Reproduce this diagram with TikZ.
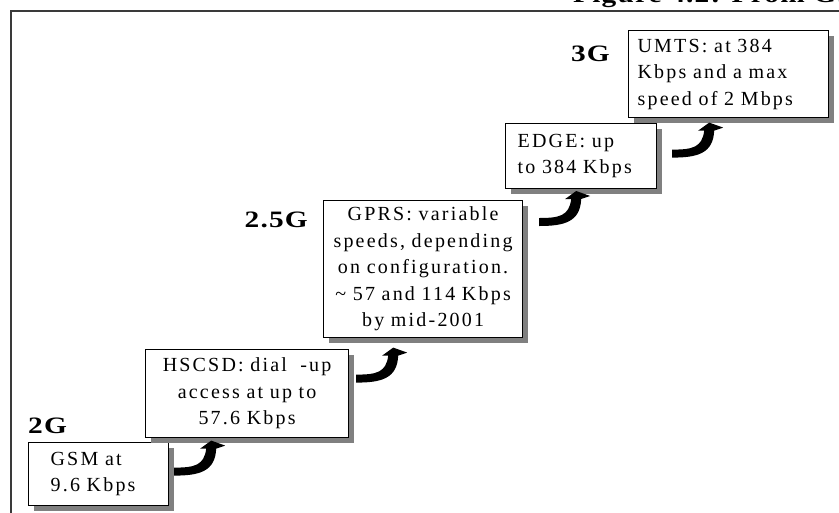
\documentclass[tikz,border=0pt]{standalone}
\usepackage{fontspec}
\setmainfont{Liberation Serif}
\newfontfamily\bodyfont[LetterSpace=11]{Liberation Serif}
\newfontfamily\tagfont[LetterSpace=4]{Liberation Serif}
\usetikzlibrary{shadows}
\definecolor{shadowgray}{HTML}{808080}
\definecolor{framegray}{HTML}{3A3A3A}

\begin{document}
\begin{tikzpicture}[x=1pt,y=-1pt,
  box/.style={draw=black, line width=1.2pt, fill=white, inner ysep=0pt,
    anchor=north west, font=\bodyfont\fontsize{20pt}{26.5pt}\selectfont,
    drop shadow={shadow xshift=5pt, shadow yshift=-5pt, fill=shadowgray, opacity=1}},
  gen/.style={font=\tagfont\bfseries\fontsize{23.5pt}{23.5pt}\selectfont, inner sep=0pt},
  bend arrow/.pic={
    \fill[black] (0,-4) -- (0,4)
      .. controls (25,4) and (41,0) .. (42,-23)
      -- (51,-26) -- (37,-31) -- (26,-23) -- (32,-23)
      .. controls (30,-6) and (20,-4) .. (0,-4) -- cycle;}]
\useasboundingbox (0,0) rectangle (839,512);

% outer frame and caption
\draw[framegray, line width=1.2pt] (11,530) -- (11,11) -- (870,11);
\node[gen, anchor=base west] (title) at (573,2)
  {\scalebox{1.25}[1]{Figure 4.2: From GSM}};

% the steps
\node[box, minimum width=140pt, minimum height=63pt, text width=96pt,
  inner xsep=22pt, align=left] (gsm) at (28,442) {GSM at\\9.6 Kbps};
\node[box, minimum width=203pt, minimum height=88pt, text width=193pt,
  inner xsep=5pt, align=center] (hscsd) at (145,349)
  {HSCSD: dial~ -up\\access at up to\\57.6 Kbps};
\node[box, minimum width=199pt, minimum height=137pt, text width=197pt,
  inner xsep=1pt, align=center] (gprs) at (323,200)
  {GPRS: variable\\speeds, depending\\on configuration.\\\textasciitilde{} 57 and 114 Kbps\\by mid-2001};
\node[box, minimum width=151pt, minimum height=65pt, text width=127pt,
  inner xsep=12pt, align=left] (edge) at (505,123) {EDGE: up\\to 384 Kbps};
\node[box, minimum width=200pt, minimum height=87pt, text width=182pt,
  inner xsep=9pt, align=left] (umts) at (628,30)
  {UMTS: at 384\\Kbps and a max\\speed of 2 Mbps};

% generation tags
\node[gen, anchor=west] (g2) at (28,426) {\scalebox{1.25}[1]{2G}};
\node[gen, anchor=east] (g25) at (308,220) {\scalebox{1.25}[1]{2.5G}};
\node[gen, anchor=east] (g3) at (610,54) {\scalebox{1.25}[1]{3G}};

% curved step arrows
\pic at ([shift={(5,-2.5)}]gsm.east) {bend arrow};
\pic at ([shift={(7,-15)}]hscsd.east) {bend arrow};
\pic at ([shift={(16,22)}]gprs.north east) {bend arrow};
\pic at ([shift={(15,-2.5)}]edge.east) {bend arrow};
\end{tikzpicture}
\end{document}
